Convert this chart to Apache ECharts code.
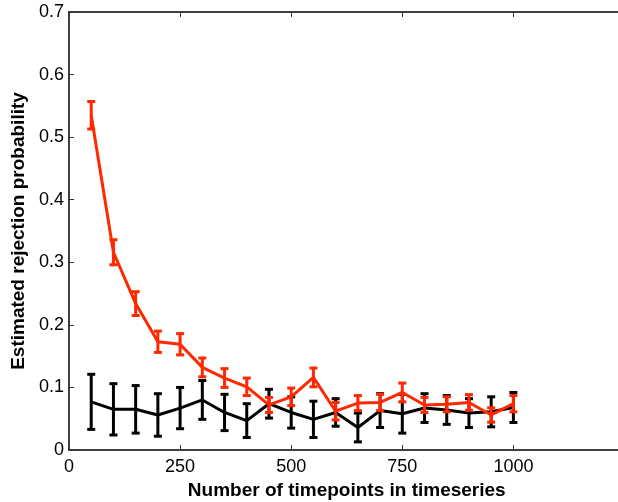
<!DOCTYPE html>
<html>
<head>
<meta charset="utf-8">
<script src="https://cdn.jsdelivr.net/npm/echarts@6/dist/echarts.min.js"></script>
<style>
  html, body { margin: 0; padding: 0; background: #fff; }
  #main { width: 618px; height: 502px; }
</style>
</head>
<body>
<div id="main"></div>
<script>
// timepoints
var xs = [50, 100, 150, 200, 250, 300, 350, 400, 450, 500, 550, 600, 650, 700, 750, 800, 850, 900, 950, 1000];

// red series (mean and half error bar)
var redMean = [0.535, 0.316, 0.234, 0.173, 0.169, 0.132, 0.115, 0.101, 0.072, 0.085, 0.116, 0.062, 0.075, 0.076, 0.092, 0.072, 0.073, 0.076, 0.056, 0.074];
var redErr = [0.022, 0.020, 0.019, 0.017, 0.017, 0.015, 0.015, 0.014, 0.012, 0.014, 0.015, 0.014, 0.012, 0.013, 0.015, 0.012, 0.012, 0.0125, 0.0115, 0.013];

// black series
var blackMean = [0.077, 0.065, 0.065, 0.056, 0.067, 0.080, 0.060, 0.047, 0.074, 0.060, 0.049, 0.060, 0.036, 0.063, 0.058, 0.067, 0.064, 0.059, 0.061, 0.068];
var blackErr = [0.044, 0.041, 0.038, 0.034, 0.033, 0.031, 0.029, 0.027, 0.023, 0.025, 0.029, 0.022, 0.023, 0.027, 0.031, 0.023, 0.023, 0.023, 0.024, 0.024];

var RED = '#ff2800';
var BLACK = '#000000';
var fontFam = '"Liberation Sans", Arial, Helvetica, sans-serif';

function pairs(mean) {
    return xs.map(function (x, i) { return [x, mean[i]]; });
}
function bars(mean, err) {
    return xs.map(function (x, i) { return [x, mean[i] - err[i], mean[i] + err[i]]; });
}

function errorBarSeries(mean, err, color) {
    return {
        type: 'custom',
        silent: true,
        data: bars(mean, err),
        encode: { x: 0, y: [1, 2] },
        renderItem: function (params, api) {
            var lo = api.coord([api.value(0), api.value(1)]);
            var hi = api.coord([api.value(0), api.value(2)]);
            var w = 4;
            var style = { stroke: color, lineWidth: 3 };
            return {
                type: 'group',
                children: [
                    { type: 'line', shape: { x1: lo[0], y1: lo[1], x2: hi[0], y2: hi[1] }, style: style },
                    { type: 'line', shape: { x1: lo[0] - w, y1: lo[1], x2: lo[0] + w, y2: lo[1] }, style: style },
                    { type: 'line', shape: { x1: hi[0] - w, y1: hi[1], x2: hi[0] + w, y2: hi[1] }, style: style }
                ]
            };
        }
    };
}

var chart = echarts.init(document.getElementById('main'));

chart.setOption({
    animation: false,
    backgroundColor: '#fff',
    grid: {
        left: 69,
        top: 12,
        width: 555.5,
        height: 438,
        outerBoundsMode: 'none',
        containLabel: false
    },
    xAxis: [{
        type: 'value',
        min: 0,
        max: 1250,
        interval: 250,
        name: 'Number of timepoints in timeseries',
        nameLocation: 'middle',
        nameGap: 31,
        nameTextStyle: { fontFamily: fontFam, fontSize: 19, fontWeight: 'bold', color: '#000' },
        axisLine: { onZero: false, lineStyle: { color: '#000', width: 1.5 } },
        axisTick: { inside: true, length: 5, lineStyle: { color: '#333' } },
        axisLabel: {
            fontFamily: fontFam, fontSize: 18, color: '#000', margin: 8, showMaxLabel: false,
            formatter: function (v) { return String(v); }
        },
        splitLine: { show: false }
    }, {
        type: 'value',
        position: 'top',
        min: 0,
        max: 1250,
        interval: 250,
        axisLine: { onZero: false, lineStyle: { color: '#000', width: 1.5 } },
        axisTick: { inside: true, length: 5, lineStyle: { color: '#333' } },
        axisLabel: { show: false },
        splitLine: { show: false }
    }],
    yAxis: [{
        type: 'value',
        min: 0,
        max: 0.7,
        interval: 0.1,
        name: 'Estimated rejection probability',
        nameLocation: 'middle',
        nameGap: 35,
        nameTextStyle: { fontFamily: fontFam, fontSize: 19, fontWeight: 'bold', color: '#000' },
        axisLine: { show: true, onZero: false, lineStyle: { color: '#000', width: 1.5 } },
        axisTick: { show: true, inside: true, length: 5, lineStyle: { color: '#333' } },
        axisLabel: { fontFamily: fontFam, fontSize: 18, color: '#000', margin: 5 },
        splitLine: { show: false }
    }, {
        type: 'value',
        position: 'right',
        min: 0,
        max: 0.7,
        interval: 0.1,
        axisLine: { show: true, onZero: false, lineStyle: { color: '#000', width: 1.5 } },
        axisTick: { show: true, inside: true, length: 5, lineStyle: { color: '#333' } },
        axisLabel: { show: false },
        splitLine: { show: false }
    }],
    series: [
        {
            type: 'line',
            data: pairs(blackMean),
            symbol: 'none',
            lineStyle: { color: BLACK, width: 3 },
            z: 2
        },
        errorBarSeries(blackMean, blackErr, BLACK),
        {
            type: 'line',
            data: pairs(redMean),
            symbol: 'none',
            lineStyle: { color: RED, width: 3 },
            z: 3
        },
        Object.assign(errorBarSeries(redMean, redErr, RED), { z: 3 })
    ]
});
</script>
</body>
</html>
